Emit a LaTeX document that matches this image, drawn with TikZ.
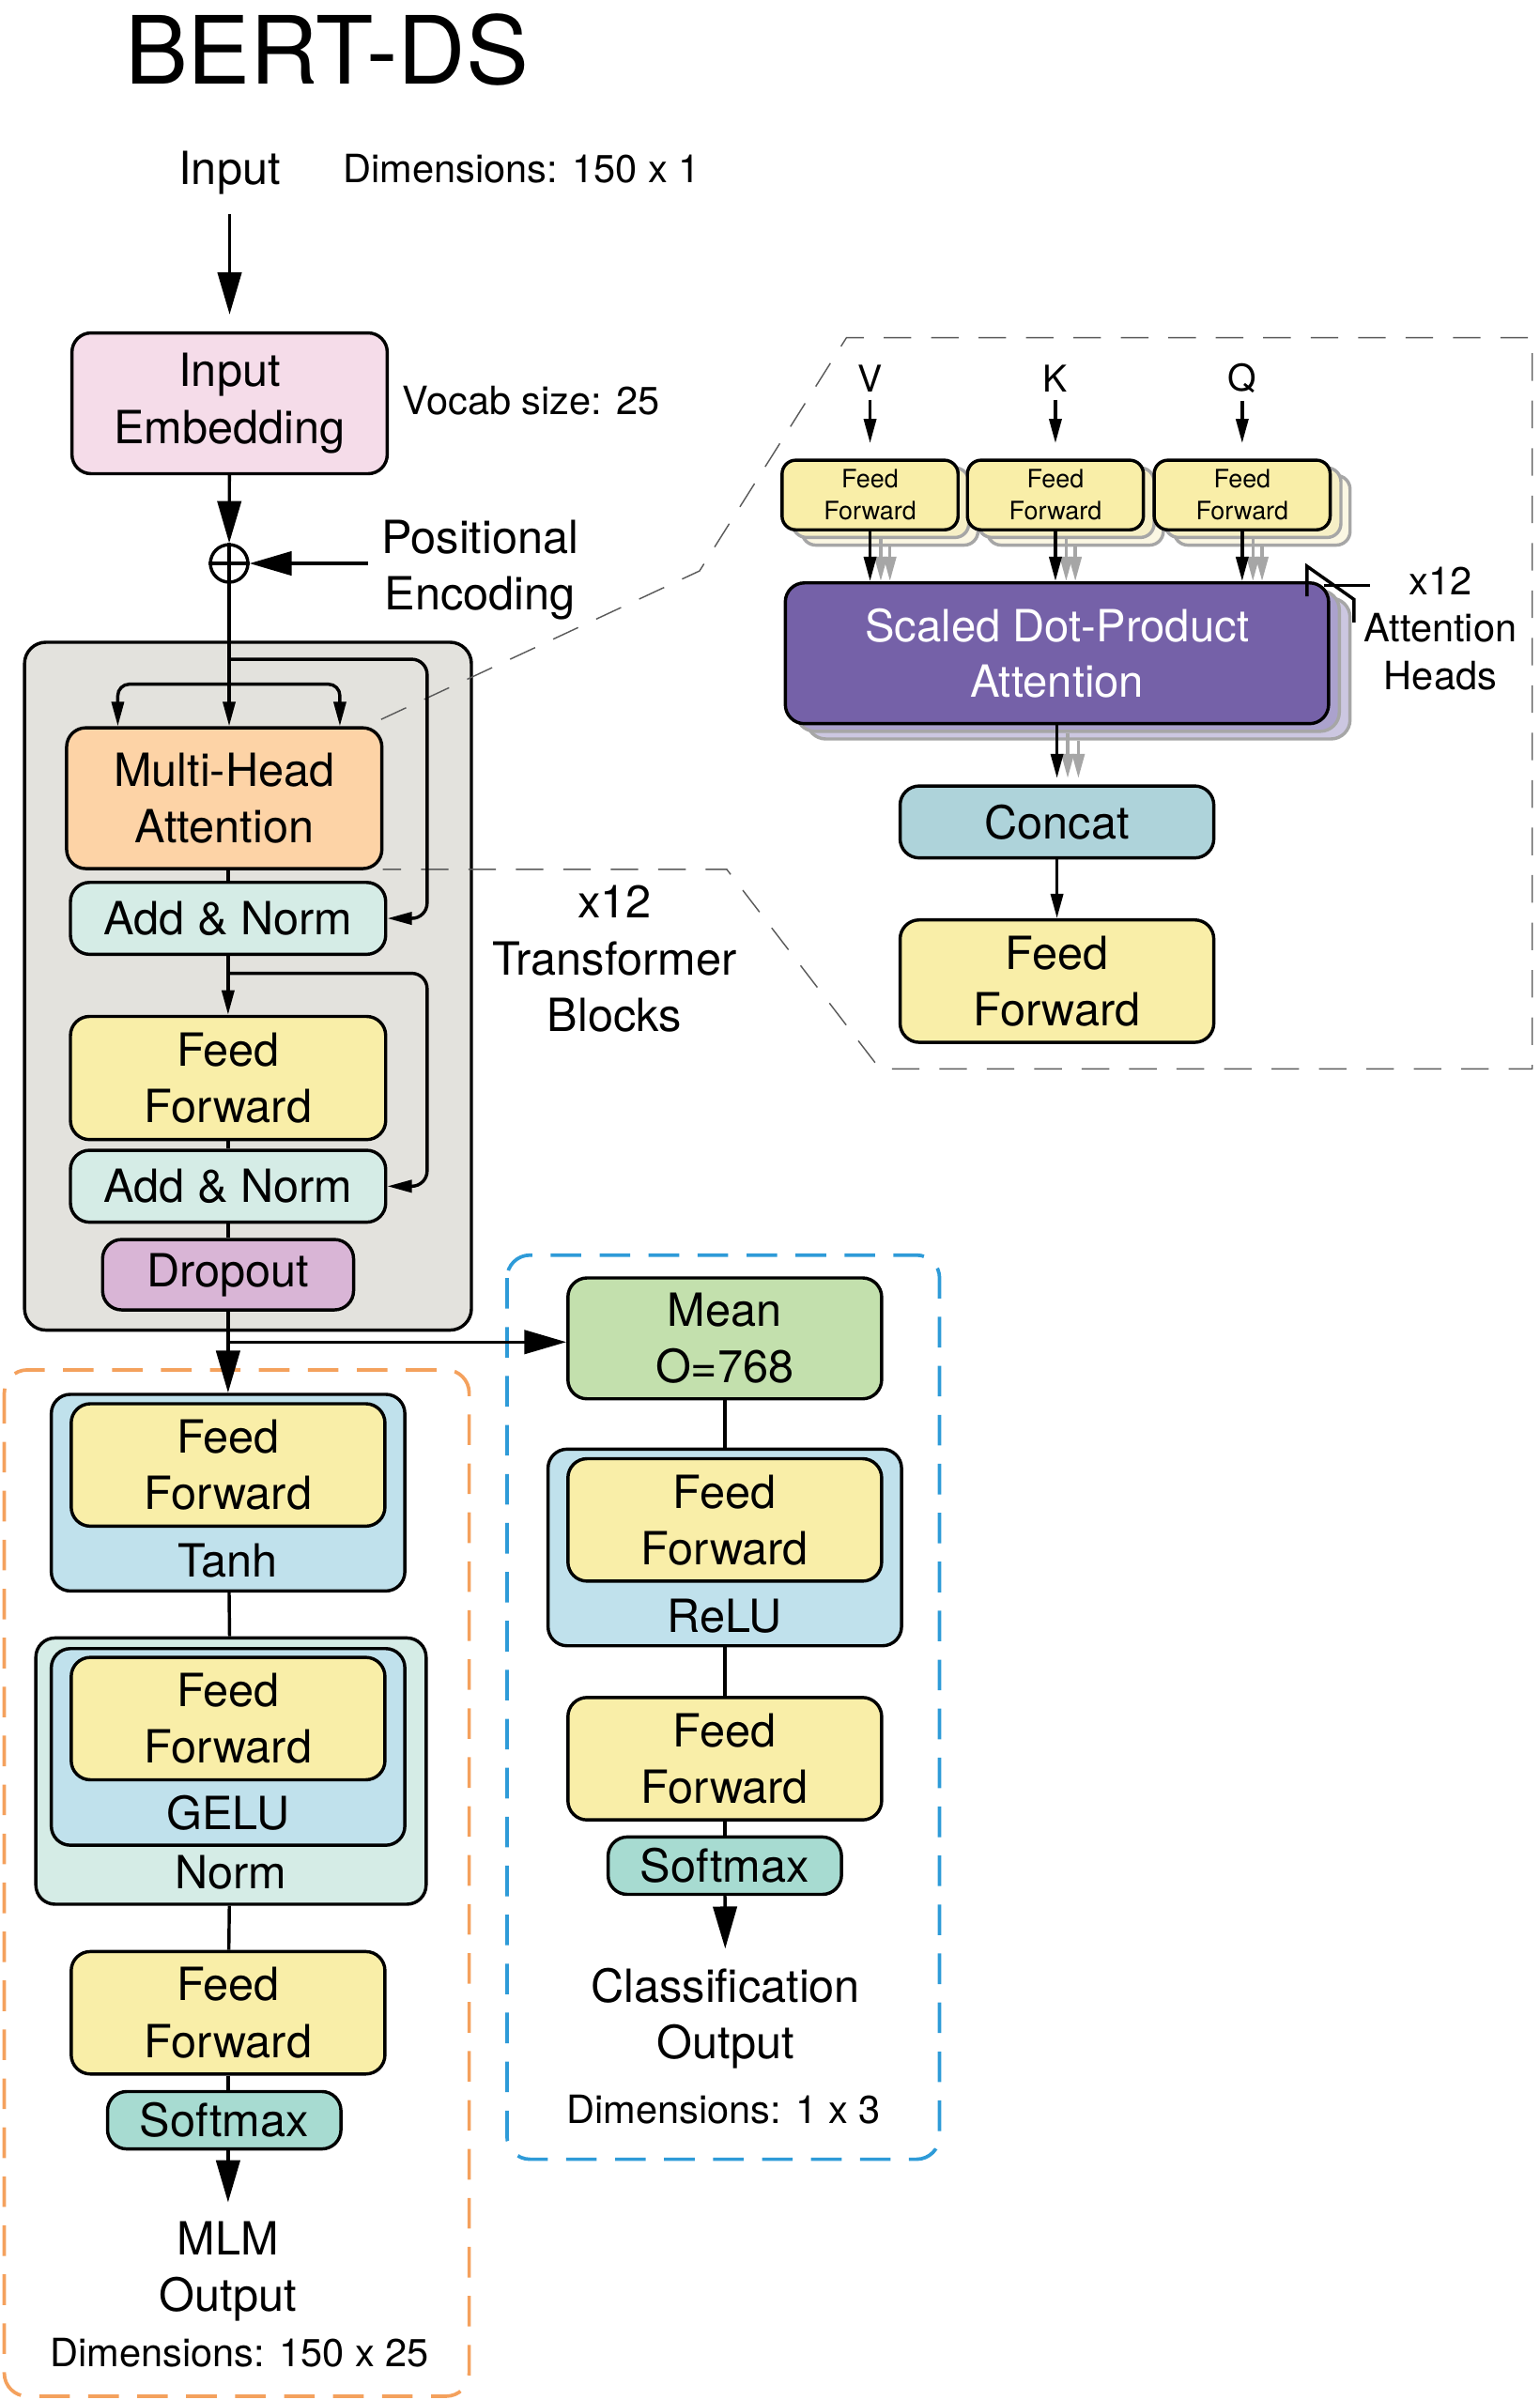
\documentclass[tikz,border=0pt]{standalone}
\usepackage{fontspec}
\setmainfont{TeX Gyre Heros}
\usepackage{tikz}
\usetikzlibrary{positioning,arrows.meta}

\definecolor{embpink}{HTML}{F5DCE9}
\definecolor{mhapeach}{HTML}{FDD3A6}
\definecolor{normmint}{HTML}{D5ECE6}
\definecolor{ffyellow}{HTML}{F9EEA8}
\definecolor{droppurple}{HTML}{D9B5D6}
\definecolor{blockgray}{HTML}{E3E2DD}
\definecolor{actblue}{HTML}{C0E1EC}
\definecolor{smteal}{HTML}{A7DBD1}
\definecolor{meangreen}{HTML}{C3E0AD}
\definecolor{concatblue}{HTML}{AED3DA}
\definecolor{sdpapurple}{HTML}{7561A8}
\definecolor{sdpacopyA}{HTML}{ABA2CD}
\definecolor{sdpacopyB}{HTML}{CCC7E1}
\definecolor{ffcopyA}{HTML}{F6EFC6}
\definecolor{ffcopyB}{HTML}{FBF7E3}
\definecolor{copygray}{HTML}{A6A6A6}
\definecolor{zoomgray}{HTML}{5A5A5A}
\definecolor{mlmorange}{HTML}{F4A15D}
\definecolor{clsblue}{HTML}{2E9BD8}

\newcommand{\boxtxt}{\fontsize{17}{21}\selectfont}
\newcommand{\notetxt}{\fontsize{14.5}{17.7}\selectfont}
\newcommand{\headtxt}{\fontsize{9.4}{11.9}\selectfont}
\newcommand{\sdpatxt}{\fontsize{16.5}{20.8}\selectfont}
\newcommand{\titletxt}{\fontsize{35}{40}\selectfont}
\newcommand{\qkvtxt}{\fontsize{13.7}{16}\selectfont}

\begin{document}
\begin{tikzpicture}[x=0.02cm,y=-0.02cm,line width=1.2pt,
box/.style={draw,rounded corners=0.25cm,inner sep=0pt,align=center,font=\boxtxt,minimum width=4.1cm},
ffbox/.style={box,fill=ffyellow,minimum height=1.6cm},
normbox/.style={box,fill=normmint,minimum height=0.94cm},
actbox/.style={box,fill=actblue,minimum width=4.62cm,minimum height=2.57cm},
smbox/.style={box,fill=smteal,minimum width=3.05cm,minimum height=0.75cm},
headbox/.style={box,fill=ffyellow,font=\headtxt,minimum width=2.3cm,minimum height=0.91cm,rounded corners=0.18cm},
headcopy/.style={headbox,draw=copygray,fill=#1},
sdpabox/.style={box,minimum width=7.1cm,minimum height=1.84cm},
note/.style={inner sep=0pt,align=center},
actlabel/.style={anchor=south,yshift=0.17cm,font=\boxtxt,inner sep=0pt},
bigtip/.style={-{Triangle[length=0.55cm,width=0.31cm]}},
smalltip/.style={-{Triangle[length=0.32cm,width=0.16cm]}},
graytip/.style={smalltip,color=copygray},
zoomline/.style={draw=zoomgray,line width=0.5pt,dash pattern=on 0.36cm off 0.26cm},
mlmbox/.style={draw=mlmorange,line width=1.3pt,dash pattern=on 0.4cm off 0.24cm,rounded corners=0.3cm},
clsbox/.style={draw=clsblue,line width=1.3pt,dash pattern=on 0.4cm off 0.24cm,rounded corners=0.3cm}]
\useasboundingbox (0,0) rectangle (1005.5,1568);

% title and input
\node [note,font=\titletxt] (title) at (213.5,32.3) {BERT-DS};
\node [note,font=\boxtxt] (inlab) at (150,113) {Input};
\node [note,font=\notetxt,right=0.78cm of inlab,yshift=0.05cm] (dimin) {Dimensions: 150 x 1};
\node (emb) [box,fill=embpink,minimum width=4.12cm,minimum height=1.84cm] at (150,263.5) {Input\\Embedding};
\node [note,font=\notetxt,right=0.16cm of emb,yshift=0.04cm] (vocab) {Vocab size: 25};
\node (plus) [circle,draw,minimum size=0.49cm,inner sep=0pt] at (149.7,368.1) {};
\node [note,font=\boxtxt] (posenc) at (313.7,372.5) {Positional\\Encoding};
\coordinate (posin) at (240.3,368.1);

\draw[bigtip,shorten <=0.23cm,shorten >=0.22cm] (inlab) -- (emb);
\draw[bigtip] (emb) -- (plus);
\draw[bigtip] (posin) -- (plus);
\draw (plus.west) -- (plus.east);
\draw (plus.north) -- (plus.south);

% transformer block
\node (tblock) [box,fill=blockgray,minimum width=5.84cm,minimum height=8.99cm,rounded corners=0.28cm] at (162,644.3) {};
\draw[zoomline] (249,470) -- (457,373) -- (553,220.6) -- (1001,220.6) -- (1001,698.3)
  -- (574.8,698.3) -- (474.8,568) -- (250,568);

\node (mha) [box,fill=mhapeach,minimum width=4.12cm,minimum height=1.84cm] at (146.5,521.5) {Multi-Head\\Attention};
\node (an1) [normbox,minimum width=4.12cm] at (149,600) {Add \& Norm};
\node (ff0) [ffbox,minimum width=4.12cm,minimum height=1.61cm] at (149,704.3) {Feed\\Forward};
\node (an2) [normbox,minimum width=4.12cm] at (149,775) {Add \& Norm};
\node (drop) [box,fill=droppurple,minimum width=3.28cm,minimum height=0.92cm] at (149,832.8) {Dropout};

\coordinate (res1) at (149,430.7);
\coordinate (br) at (149,447);
\coordinate (res2) at (149,635.9);
\draw[smalltip] (plus) -- (plus |- mha.north);
\draw[smalltip,rounded corners=0.15cm] (br) -| ([xshift=0.69cm]mha.north west);
\draw[smalltip,rounded corners=0.15cm] (br) -| ([xshift=-0.57cm]mha.north east);
\draw[smalltip,rounded corners=0.2cm] (res1) -| ([xshift=0.52cm]an1.east) -- (an1.east);
\draw (an1.north |- mha.south) -- (an1.north);
\draw[smalltip] (an1) -- (ff0);
\draw[smalltip,rounded corners=0.2cm] (res2) -| ([xshift=0.52cm]an2.east) -- (an2.east);
\draw (ff0) -- (an2);
\draw (an2) -- (drop);

\node [note,font=\boxtxt] (blocks) at (401.5,626.4) {x12\\Transformer\\Blocks};

% attention heads
\foreach \h/\hx/\hl in {v/568.4/V,k/689.5/K,q/811.5/Q}{
  \node (\h2) [headcopy=ffcopyB] at (\hx+13,333.4) {};
  \node (\h1) [headcopy=ffcopyA] at (\hx+7,328.4) {};
  \node (\h) [headbox] at (\hx,323.4) {Feed\\Forward};
  \node (lab\h) [note,font=\qkvtxt] at (\hx,247.2) {\hl};
  \draw[smalltip,shorten <=0.08cm,shorten >=0.2cm] (lab\h) -- (\h);
}
\node (sdpa2) [sdpabox,draw=copygray,fill=sdpacopyB] at (704.5,436.8) {};
\node (sdpa1) [sdpabox,draw=copygray,fill=sdpacopyA] at (697.5,431.8) {};
\node (sdpa) [sdpabox,fill=sdpapurple,text=white,font=\sdpatxt] at (690.5,426.8) {Scaled Dot-Product\\Attention};
\foreach \h in {v,k,q}{
  \draw[graytip] (\h2) -- (\h2 |- sdpa.north);
  \draw[graytip] (\h1) -- (\h1 |- sdpa.north);
  \draw[smalltip] (\h) -- (\h |- sdpa.north);
}
\draw (853.8,389.6) -- (853.8,369.9) -- (884.5,391.6) -- (884.5,406.7);
\draw (865,382.4) -- (895,382.4);
\node [note,font=\notetxt] (heads) at (941,410.6) {x12\\Attention\\Heads};

\node (concat) [box,fill=concatblue,minimum height=0.94cm] at (690.5,537) {Concat};
\node (ffo) [ffbox] at (690.5,641) {Feed\\Forward};
\draw[graytip,shorten >=0.08cm] (sdpa2) -- (sdpa2 |- concat.north);
\draw[graytip,shorten >=0.08cm] (sdpa1) -- (sdpa1 |- concat.north);
\draw[smalltip,shorten >=0.08cm] (sdpa) -- (concat);
\draw[smalltip] (concat) -- (ffo);

% output heads
\draw[mlmbox] (2.8,895) rectangle (306.5,1565.5);
\draw[clsbox] (331.2,820) rectangle (613.8,1410.7);

\node (tanh) [actbox,label={[actlabel]south:Tanh}] at (149,975.2) {};
\node (ff1) [ffbox] at (149,957.1) {Feed\\Forward};
\node (norm) [box,fill=normmint,minimum width=5.1cm,minimum height=3.48cm,label={[actlabel,yshift=0.02cm]south:Norm}] at (150.9,1157.1) {};
\node (gelu) [actbox,label={[actlabel,yshift=0.02cm]south:GELU}] at (149,1141.3) {};
\node (ff2) [ffbox] at (149,1122.8) {Feed\\Forward};
\node (ff3) [ffbox] at (149,1315) {Feed\\Forward};
\node (sm1) [smbox] at (146.5,1385.2) {Softmax};
\node [note,font=\boxtxt] (mlm) at (149,1484) {MLM\\Output};
\node [note,font=\notetxt] (dimmlm) at (156.4,1537.4) {Dimensions: 150 x 25};

\node (mean) [box,fill=meangreen,minimum height=1.58cm] at (473.5,874.4) {Mean\\O=768};
\node (relu) [actbox,label={[actlabel,yshift=-0.01cm]south:ReLU}] at (473.5,1011) {};
\node (ff4) [ffbox] at (473.5,993) {Feed\\Forward};
\node (ff5) [ffbox] at (473.5,1149) {Feed\\Forward};
\node (sm2) [smbox] at (473.5,1218.9) {Softmax};
\node [note,font=\boxtxt] (cls) at (474,1318.5) {Classification\\Output};
\node [note,font=\notetxt] (dimcls) at (472.7,1378.2) {Dimensions: 1 x 3};

\coordinate (split) at (149,876.8);
\draw[bigtip] (drop) -- (tanh);
\draw[bigtip] (split) -- (split -| mean.west);
\draw (tanh) -- (norm);
\draw (norm) -- (ff3);
\draw (ff3) -- (ff3 |- sm1.north);
\draw[bigtip,shorten >=0.23cm] (ff3 |- sm1.south) -- (mlm);
\draw (mean) -- (relu);
\draw (relu) -- (ff5);
\draw (ff5) -- (sm2);
\draw[bigtip,shorten >=0.23cm] (sm2) -- (cls);
\end{tikzpicture}
\end{document}
